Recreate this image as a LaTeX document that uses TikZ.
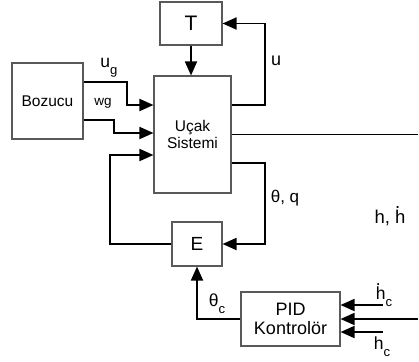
\documentclass[tikz,border=0pt]{standalone}
\usepackage{fontspec}
\setmainfont{Liberation Sans}
\usetikzlibrary{arrows.meta}
\newcommand\mysub[1]{\raisebox{-0.42em}{\scalebox{0.75}{#1}}}
\newcommand\hdt{\rlap{\raisebox{0.8em}{.}}h}
\begin{document}
\begin{tikzpicture}[x=1pt,y=-1pt,
  blk/.style={draw=black!65,line width=1.1pt,inner sep=0pt,align=center},
  conn/.style={line width=1.8pt,line join=miter},
  arr/.style={conn,-{Triangle[length=14pt,width=12pt]}},
  lbl/.style={inner sep=0pt}]
\useasboundingbox (0,0) rectangle (419,361);
\node[blk,minimum width=62pt,minimum height=43pt,font=\fontsize{21}{21}\selectfont] (T) at (191,23.5) {T};
\node[blk,minimum width=77pt,minimum height=117pt,font=\fontsize{15.5}{17}\selectfont] (U) at (192.5,134.5) {Uçak\\Sistemi};
\node[blk,minimum width=71pt,minimum height=76pt,font=\fontsize{15.5}{16}\selectfont] (B) at (47.5,101) {Bozucu};
\node[blk,minimum width=50pt,minimum height=44pt,font=\fontsize{19}{19}\selectfont] (E) at (197,244) {E};
\node[blk,minimum width=99pt,minimum height=54pt,font=\fontsize{18}{19}\selectfont] (P) at (290.5,319) {PID\\Kontrolör};
% coordinates
\coordinate (c1) at (265,105);
\coordinate (c2) at (265,163);
\coordinate (c3) at (110,155);
\coordinate (out) at (418,135);
\coordinate (b1) at (127,82);
\coordinate (b1e) at (127,105);
\coordinate (b2) at (114,120);
\coordinate (b2e) at (114,133);
\coordinate (p1) at (383,305);
\coordinate (p2) at (418,319);
\coordinate (p3) at (383,332);
% connectors
\draw[arr] (T.south) -- (T.south |- U.north);
\draw[arr] (U.east |- c1) -- (c1) |- (T.east);
\draw[conn] (U.east) -- (U.east -| out);
\draw[arr] (U.east |- c2) -- (c2) |- (E.east);
\draw[arr] (E.west) -| (c3) -- (U.west |- c3);
\draw[arr] (B.east |- b1) -- (b1) -- (b1e) -- (U.west |- b1e);
\draw[arr] (B.east |- b2) -- (b2) -- (b2e) -- (U.west |- b2e);
\draw[arr] (P.west) -| (E.south);
\draw[arr] (p1) -- (P.east |- p1);
\draw[arr] (p2) -- (P.east |- p2);
\draw[arr] (p3) -- (P.east |- p3);
% labels
\node[lbl,font=\fontsize{17.5}{17}\selectfont] (lug) at (109,68) {u\mysub{g}};
\node[lbl,font=\fontsize{13.5}{13}\selectfont] (lwg) at (103,103) {wg};
\node[lbl,font=\fontsize{18}{18}\selectfont] (lu) at (276,61) {u};
\node[lbl,font=\fontsize{17}{17}\selectfont] (ltq) at (285,198) {θ, q};
\node[lbl,font=\fontsize{18.5}{18}\selectfont] (lh) at (390,216) {h, \hdt};
\node[lbl,font=\fontsize{17.5}{17}\selectfont] (ltc) at (217,304) {θ\mysub{c}};
\node[lbl,font=\fontsize{17.5}{17}\selectfont] (lhdc) at (384,295) {\hdt\mysub{c}};
\node[lbl,font=\fontsize{17.5}{17}\selectfont] (lhc) at (382,347) {h\mysub{c}};
\end{tikzpicture}
\end{document}
